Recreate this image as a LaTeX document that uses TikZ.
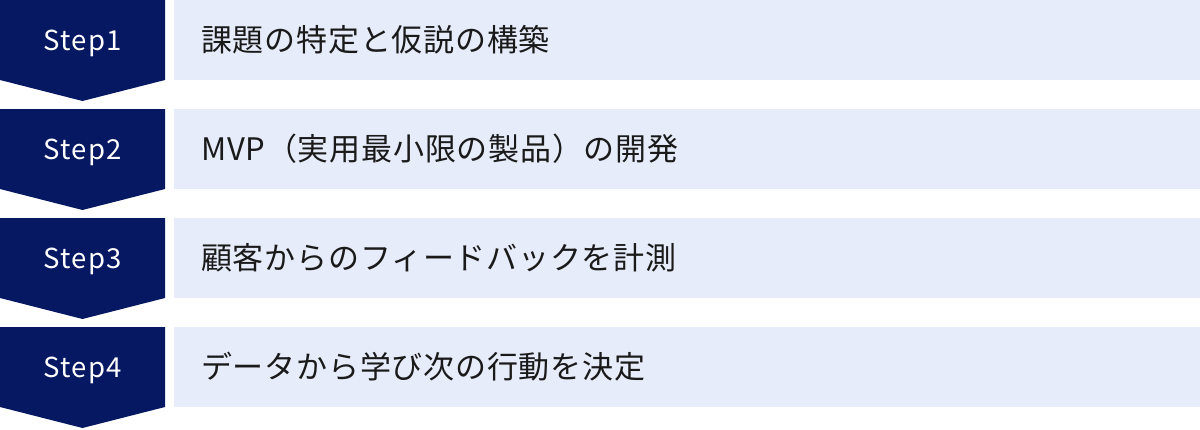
\documentclass[tikz,border=0pt]{standalone}
\usepackage{fontspec}
\setmainfont{Noto Sans CJK JP}
\usepackage{xcolor}
\usepackage{tikz}
\usetikzlibrary{positioning}

\definecolor{stepblue}{HTML}{061862}
\definecolor{taskbg}{HTML}{E6ECF9}
\definecolor{tasktext}{HTML}{1A1A1A}

\begin{document}
\begin{tikzpicture}[x=1pt,y=-1pt]
\useasboundingbox (0,0) rectangle (1200,429);

\tikzset{
  steplabel/.style={text=white, inner sep=0pt, anchor=base,
    font=\fontsize{27.5}{32}\selectfont\addfontfeatures{LetterSpace=5}},
  tasklabel/.style={text=tasktext, anchor=base west, inner sep=0pt,
    font=\fontsize{31}{36}\selectfont\addfontfeatures{LetterSpace=2.5}}
}

% one row per step: chevron on the left, band on the right
\foreach \i/\txt in {1/課題の特定と仮説の構築,
                     2/MVP（実用最小限の製品）の開発,
                     3/顧客からのフィードバックを計測,
                     4/データから学び次の行動を決定}{
  \pgfmathsetmacro{\ytop}{(\i-1)*109}
  \fill[stepblue] (0,\ytop) -- (165,\ytop) -- (165,\ytop+80)
                  -- (82.5,\ytop+101) -- (0,\ytop+80) -- cycle;
  \fill[taskbg] (174,\ytop) rectangle (1200,\ytop+80);
  \node[steplabel] (step\i) at (82.5,\ytop+50) {Step\i};
  \node[tasklabel] (task\i) at (201,\ytop+51) {\txt};
}

\end{tikzpicture}
\end{document}
